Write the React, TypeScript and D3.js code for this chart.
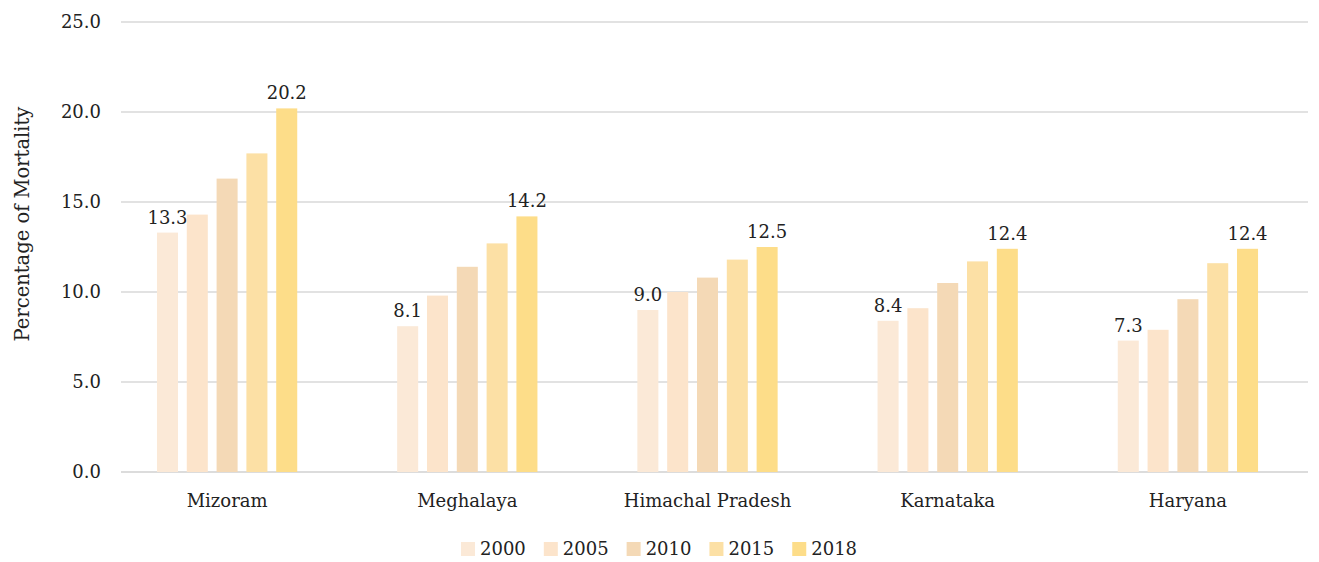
import * as d3 from 'd3';
import { useEffect, useRef } from 'react';

const states = ['Mizoram', 'Meghalaya', 'Himachal Pradesh', 'Karnataka', 'Haryana'];
const years = ['2000', '2005', '2010', '2015', '2018'];
const v2000 = [13.3, 8.1, 9.0, 8.4, 7.3];
const v2005 = [14.3, 9.8, 10.0, 9.1, 7.9];
const v2010 = [16.3, 11.4, 10.8, 10.5, 9.6];
const v2015 = [17.7, 12.7, 11.8, 11.7, 11.6];
const v2018 = [20.2, 14.2, 12.5, 12.4, 12.4];
const series = [v2000, v2005, v2010, v2015, v2018];
const labelled = ['2000', '2018'];
const colors = ['#FBE9D7', '#FCE4CB', '#F4D9B6', '#FCE0A5', '#FDDD89'];
const yTicks = [0, 5, 10, 15, 20, 25];

const FONT = "'DejaVu Serif', serif";
const FS = 18;

export default function App() {
  const ref = useRef<SVGSVGElement>(null);

  useEffect(() => {
    const w = 1319, h = 562;
    const svg = d3.select(ref.current);
    svg.selectAll('*').remove();
    svg.attr('width', w).attr('height', h);

    const y = d3.scaleLinear().domain([0, 25]).range([472, 22]);
    const x0 = d3.scaleBand<string>().domain(states).range([107, 1308])
      .paddingInner(0.416).paddingOuter(0.208);
    const x1 = d3.scaleBand<string>().domain(years).range([0, x0.bandwidth()])
      .paddingInner(0.295);

    // grid
    svg.append('g').selectAll('line').data(yTicks).join('line')
      .attr('x1', 121).attr('x2', 1308)
      .attr('y1', d => y(d)).attr('y2', d => y(d))
      .attr('stroke', d => d === 0 ? '#d0d0d0' : '#d9d9d9')
      .attr('stroke-width', 1.3);

    svg.append('g').selectAll('text').data(yTicks).join('text')
      .attr('x', 101).attr('y', d => y(d)).attr('dy', '0.35em')
      .attr('text-anchor', 'end').attr('font-size', FS).attr('fill', '#222')
      .attr('font-family', FONT)
      .text(d => d3.format('.1f')(d));

    svg.append('text')
      .attr('transform', `translate(29, 224) rotate(-90)`)
      .attr('text-anchor', 'middle').attr('font-size', 19.5).attr('fill', '#222')
      .attr('font-family', FONT)
      .text('Percentage of Mortality');

    const groups = svg.append('g').selectAll('g').data(states).join('g')
      .attr('transform', d => `translate(${x0(d)},0)`);

    years.forEach((yr, si) => {
      groups.append('rect')
        .attr('x', x1(yr)!)
        .attr('width', x1.bandwidth())
        .attr('y', (_, i) => y(series[si][i]))
        .attr('height', (_, i) => y(0) - y(series[si][i]))
        .attr('fill', colors[si]);
      if (labelled.includes(yr)) {
        groups.append('text')
          .attr('x', x1(yr)! + x1.bandwidth() / 2)
          .attr('y', (_, i) => y(series[si][i]) - 9)
          .attr('text-anchor', 'middle').attr('font-size', FS).attr('fill', '#222')
          .attr('font-family', FONT)
          .text((_, i) => series[si][i].toFixed(1));
      }
    });

    svg.append('g').selectAll('text').data(states).join('text')
      .attr('x', d => x0(d)! + x0.bandwidth() / 2).attr('y', 507)
      .attr('text-anchor', 'middle').attr('font-size', FS).attr('fill', '#222')
      .attr('font-family', FONT)
      .text(d => d);

    // legend
    const legend = svg.append('g');
    let lx = 461;
    years.forEach((yr, i) => {
      legend.append('rect').attr('x', lx).attr('y', 542).attr('width', 14).attr('height', 14)
        .attr('fill', colors[i]);
      const t = legend.append('text').attr('x', lx + 19).attr('y', 549).attr('dy', '0.35em')
        .attr('font-size', FS).attr('fill', '#222').attr('font-family', FONT).text(yr);
      const tw = (t.node() as SVGTextElement).getComputedTextLength();
      lx += 19 + tw + 18;
    });
  }, []);

  return <svg ref={ref} style={{ display: 'block', position: 'absolute', left: 0, top: 0 }} />;
}
